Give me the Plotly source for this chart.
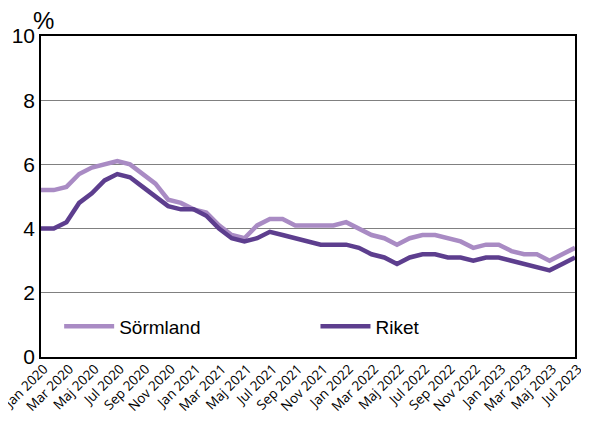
import plotly.graph_objects as go

months = ['Jan', 'Feb', 'Mar', 'Apr', 'Maj', 'Jun', 'Jul', 'Aug', 'Sep', 'Okt', 'Nov', 'Dec']
categories = [f'{m} {y}' for y in (2020, 2021, 2022, 2023) for m in months][:43]

sormland = [5.2, 5.2, 5.3, 5.7, 5.9, 6.0, 6.1, 6.0, 5.7, 5.4, 4.9, 4.8,
            4.6, 4.5, 4.1, 3.8, 3.7, 4.1, 4.3, 4.3, 4.1, 4.1, 4.1, 4.1,
            4.2, 4.0, 3.8, 3.7, 3.5, 3.7, 3.8, 3.8, 3.7, 3.6, 3.4, 3.5,
            3.5, 3.3, 3.2, 3.2, 3.0, 3.2, 3.4]
riket = [4.0, 4.0, 4.2, 4.8, 5.1, 5.5, 5.7, 5.6, 5.3, 5.0, 4.7, 4.6,
         4.6, 4.4, 4.0, 3.7, 3.6, 3.7, 3.9, 3.8, 3.7, 3.6, 3.5, 3.5,
         3.5, 3.4, 3.2, 3.1, 2.9, 3.1, 3.2, 3.2, 3.1, 3.1, 3.0, 3.1,
         3.1, 3.0, 2.9, 2.8, 2.7, 2.9, 3.1]

tick_labels = categories[::2]

fig = go.Figure()
fig.add_trace(go.Scatter(x=categories, y=sormland, name='Sörmland', mode='lines',
                         line=dict(color='#a98bc4', width=4.5), legend='legend'))
fig.add_trace(go.Scatter(x=categories, y=riket, name='Riket', mode='lines',
                         line=dict(color='#5d3e8e', width=4.5), legend='legend2'))

# the page body adds an 8px margin, so the figure is a bit smaller than the window
leg = dict(yanchor='middle', xanchor='left', font=dict(size=19),
           bgcolor='rgba(0,0,0,0)', itemwidth=50)
fig.update_layout(
    width=581, height=413,
    margin=dict(l=33, r=14, t=28, b=64),
    paper_bgcolor='white', plot_bgcolor='white',
    font=dict(family='Liberation Sans, Arial', color='black'),
    legend=dict(leg, x=0.034, y=0.095),
    legend2=dict(leg, x=0.514, y=0.095),
    showlegend=True,
)
fig.update_xaxes(type='category', tickvals=tick_labels, ticktext=tick_labels,
                 tickangle=-45, tickfont=dict(size=13.5, family='Open Sans'), ticks='',
                 ticklabelshift=3, ticklabelstandoff=-3, automargin=False,
                 showline=True, linecolor='black', linewidth=1.5, mirror=True,
                 showgrid=False)
fig.update_yaxes(range=[0, 10], dtick=2, tickfont=dict(size=21), ticks='', automargin=False,
                 showline=True, linecolor='black', linewidth=1.5, mirror=True,
                 showgrid=True, gridcolor='#808080', gridwidth=1.3, zeroline=False)
fig.add_annotation(text='%', x=0.0, y=1.0, xref='paper', yref='paper',
                   xanchor='left', yanchor='bottom', xshift=-10, yshift=0,
                   showarrow=False, font=dict(size=24))

fig.write_html('out.html')
